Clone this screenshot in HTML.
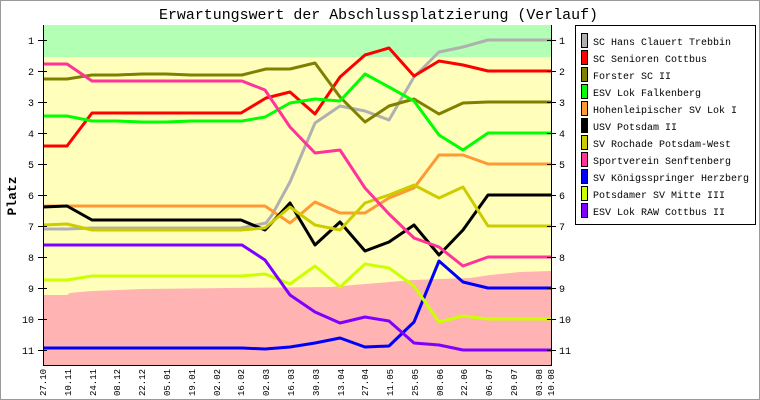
<!DOCTYPE html>
<html><head><meta charset="utf-8"><style>
html,body{margin:0;padding:0;background:#fff}
svg{display:block}
text{font-family:"Liberation Mono","DejaVu Sans Mono",monospace;fill:#000}
</style></head><body>
<svg width="760" height="400" viewBox="0 0 760 400" xmlns="http://www.w3.org/2000/svg">
<rect x="0.5" y="0.5" width="759" height="399" fill="#fff" stroke="#999"/>
<text x="159" y="19" font-size="15" textLength="439" lengthAdjust="spacingAndGlyphs">Erwartungswert der Abschlussplatzierung (Verlauf)</text>
<!-- bands -->
<rect x="43" y="25" width="508" height="340" fill="#ffffbb"/>
<rect x="43" y="25" width="508" height="32" fill="#b3ffb3"/>
<polygon fill="#ffb3b3" points="43,295 67,295 70,293 80,292 93,291 130,289.5 143,289 230,288 330,287 413,280 440,279 470,278 490,275 520,272 551,271 551,365 43,365"/>
<g fill="none" stroke-width="3" stroke-linejoin="round">
<polyline stroke="#b0b0b0" points="43,229 67,229 92,228 241,228 266,223 272,215 290,182 315,123 340,106 365,111 389,120 414,77 439,52 463,47 488,40 551,40"/>
<polyline stroke="#ff0000" points="43,146 67,146 92,113 241,113 266,98 290,92 315,114 340,77 365,55 389,48 414,76 439,61 463,65 488,71 551,71"/>
<polyline stroke="#808000" points="43,79 67,79 92,75 117,75 142,74 166,74 191,75 242,75 266,69 290,69 315,63 340,97 365,122 389,106 414,99 439,114 463,103 488,102 551,102"/>
<polyline stroke="#00ff00" points="43,116 67,116 92,121 117,121 142,122 166,122 191,121 242,121 265,117 290,103 315,99 340,101 365,74 389,87 414,101 439,135 463,150 488,133 551,133"/>
<polyline stroke="#ff9933" points="43,206 67,206 92,206 241,206 265,206 290,223 315,202 340,213 365,213 389,198 414,188 439,155 463,155 488,164 551,164"/>
<polyline stroke="#000000" points="43,207 67,206 92,220 241,220 265,230 290,203 315,245 340,222 365,251 389,242 414,225 439,255 463,230 488,195 551,195"/>
<polyline stroke="#cccc00" points="43,225 67,224 92,230 241,230 265,228 290,207 315,225 340,230 365,203 389,195 414,185 439,198 463,187 488,226 551,226"/>
<polyline stroke="#ff3399" points="43,64 67,64 92,81 242,81 265,90 290,127 315,153 340,150 365,188 389,214 414,238 439,247 463,266 488,257 551,257"/>
<polyline stroke="#0000ff" points="43,348 242,348 265,349 290,347 315,343 340,338 365,347 389,346 414,322 439,261 463,282 488,288 551,288"/>
<polyline stroke="#ccff00" points="43,280 67,280 92,276 241,276 265,274 290,284 315,266 340,287 365,264 389,268 414,286 439,322 463,316 488,319 551,319"/>
<polyline stroke="#8000ff" points="43,245 242,245 265,260 290,295 315,312 340,323 365,317 389,321 414,343 439,345 463,350 551,350"/>
</g>
<!-- axes -->
<g stroke="#000" stroke-width="1">
<line x1="43.5" y1="25" x2="43.5" y2="365"/>
<line x1="551.5" y1="25" x2="551.5" y2="365"/>
<line x1="43" y1="365.5" x2="552" y2="365.5"/>
<g id="ticks">
<line x1="38" y1="40.5" x2="47" y2="40.5"/><line x1="38" y1="71.5" x2="47" y2="71.5"/><line x1="38" y1="102.5" x2="47" y2="102.5"/><line x1="38" y1="133.5" x2="47" y2="133.5"/><line x1="38" y1="164.5" x2="47" y2="164.5"/><line x1="38" y1="195.5" x2="47" y2="195.5"/><line x1="38" y1="226.5" x2="47" y2="226.5"/><line x1="38" y1="257.5" x2="47" y2="257.5"/><line x1="38" y1="288.5" x2="47" y2="288.5"/><line x1="38" y1="319.5" x2="47" y2="319.5"/><line x1="38" y1="350.5" x2="47" y2="350.5"/>
</g>
<use href="#ticks" x="509"/>
</g>
<g font-size="10" text-anchor="middle">
<text x="31" y="44">1</text><text x="31" y="75">2</text><text x="31" y="106">3</text><text x="31" y="137">4</text><text x="31" y="168">5</text><text x="31" y="199">6</text><text x="31" y="230">7</text><text x="31" y="261">8</text><text x="31" y="292">9</text><text x="28" y="323">10</text><text x="28" y="354">11</text>
<text x="562" y="44">1</text><text x="562" y="75">2</text><text x="562" y="106">3</text><text x="562" y="137">4</text><text x="562" y="168">5</text><text x="562" y="199">6</text><text x="562" y="230">7</text><text x="562" y="261">8</text><text x="562" y="292">9</text><text x="565" y="323">10</text><text x="565" y="354">11</text>
</g>
<text x="0" y="0" font-size="13" font-weight="bold" transform="translate(16,196) rotate(-90)" text-anchor="middle">Platz</text>
<g font-size="9">
<text transform="translate(46,396) rotate(-90)">27.10</text>
<text transform="translate(71,396) rotate(-90)">10.11</text>
<text transform="translate(96,396) rotate(-90)">24.11</text>
<text transform="translate(120,396) rotate(-90)">08.12</text>
<text transform="translate(145,396) rotate(-90)">22.12</text>
<text transform="translate(170,396) rotate(-90)">05.01</text>
<text transform="translate(195,396) rotate(-90)">19.01</text>
<text transform="translate(220,396) rotate(-90)">02.02</text>
<text transform="translate(244,396) rotate(-90)">16.02</text>
<text transform="translate(269,396) rotate(-90)">02.03</text>
<text transform="translate(294,396) rotate(-90)">16.03</text>
<text transform="translate(319,396) rotate(-90)">30.03</text>
<text transform="translate(344,396) rotate(-90)">13.04</text>
<text transform="translate(368,396) rotate(-90)">27.04</text>
<text transform="translate(393,396) rotate(-90)">11.05</text>
<text transform="translate(418,396) rotate(-90)">25.05</text>
<text transform="translate(443,396) rotate(-90)">08.06</text>
<text transform="translate(467,396) rotate(-90)">22.06</text>
<text transform="translate(492,396) rotate(-90)">06.07</text>
<text transform="translate(517,396) rotate(-90)">20.07</text>
<text transform="translate(542,396) rotate(-90)">03.08</text>
<text transform="translate(554,396) rotate(-90)">10.08</text>
</g>
<!-- legend -->
<rect x="575.5" y="25.5" width="180" height="199" fill="#fff" stroke="#000"/>
<g stroke="#000" stroke-width="1">
<rect x="581.5" y="33.5" width="6" height="14" fill="#b0b0b0"/>
<rect x="581.5" y="50.5" width="6" height="14" fill="#ff0000"/>
<rect x="581.5" y="67.5" width="6" height="14" fill="#808000"/>
<rect x="581.5" y="84.5" width="6" height="14" fill="#00ff00"/>
<rect x="581.5" y="101.5" width="6" height="14" fill="#ff9933"/>
<rect x="581.5" y="118.5" width="6" height="14" fill="#000000"/>
<rect x="581.5" y="135.5" width="6" height="14" fill="#cccc00"/>
<rect x="581.5" y="152.5" width="6" height="14" fill="#ff3399"/>
<rect x="581.5" y="169.5" width="6" height="14" fill="#0000ff"/>
<rect x="581.5" y="186.5" width="6" height="14" fill="#ccff00"/>
<rect x="581.5" y="203.5" width="6" height="14" fill="#8000ff"/>
</g>
<g font-size="10">
<text x="593" y="45">SC Hans Clauert Trebbin</text>
<text x="593" y="62">SC Senioren Cottbus</text>
<text x="593" y="79">Forster SC II</text>
<text x="593" y="96">ESV Lok Falkenberg</text>
<text x="593" y="113">Hohenleipischer SV Lok I</text>
<text x="593" y="130">USV Potsdam II</text>
<text x="593" y="147">SV Rochade Potsdam-West</text>
<text x="593" y="164">Sportverein Senftenberg</text>
<text x="593" y="181">SV Königsspringer Herzberg</text>
<text x="593" y="198">Potsdamer SV Mitte III</text>
<text x="593" y="215">ESV Lok RAW Cottbus II</text>
</g>
</svg>
</body></html>
